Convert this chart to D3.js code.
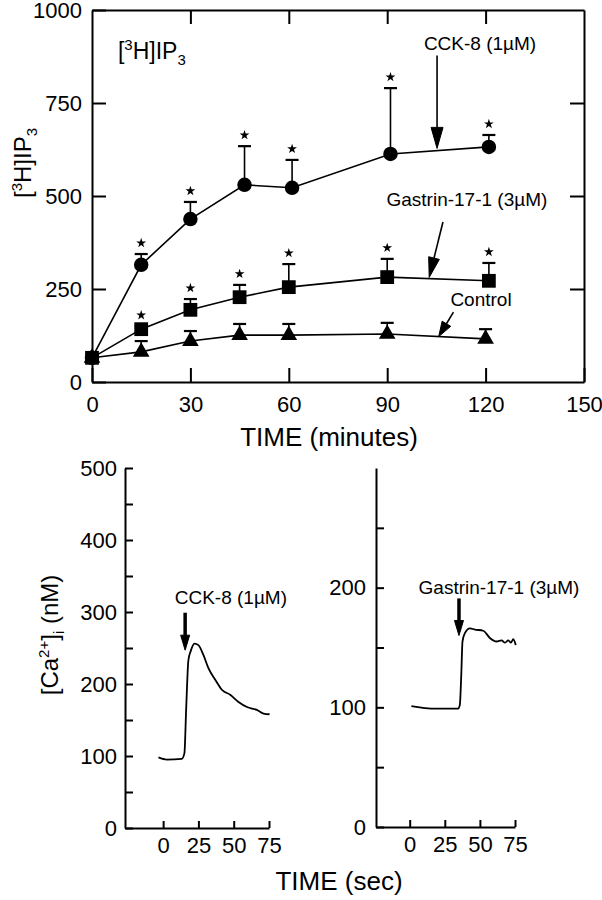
<!DOCTYPE html>
<html>
<head>
<meta charset="utf-8">
<script src="https://cdn.jsdelivr.net/npm/d3@7"></script>
<style>
  body { margin: 0; background: #fff; }
  svg { display: block; font-family: "Liberation Sans", Arial, Helvetica, sans-serif; }
  .axis path, .axis line { stroke: #000; stroke-width: 2; }
  .axis text { font-size: 22px; fill: #000; font-family: "Liberation Sans", Arial, Helvetica, sans-serif; }
</style>
</head>
<body>
<script>
// ---------- Top panel data: [3H]IP3 vs time (minutes) ----------
const cckTime  = [0, 15, 30, 46.5, 61, 91, 121];
const cckMean  = [65, 315, 438, 530, 522, 613, 632];
const cckSem   = [0, 29, 46, 104, 75, 177, 32];
const cckSig   = [false, true, true, true, true, true, true];

const gasTime  = [0, 15, 30, 45, 60, 90, 121];
const gasMean  = [65, 142, 194, 228, 255, 282, 272];
const gasSem   = [0, 8, 29, 33, 62, 49, 48];
const gasSig   = [false, true, true, true, true, true, true];

const ctlTime  = [0, 15, 30, 45, 60, 90, 120];
const ctlMean  = [65, 81, 110, 126, 126, 129, 116];
const ctlSem   = [0, 29, 27, 30, 30, 30, 26];

const topXTicks = [0, 30, 60, 90, 120, 150];
const topYTicks = [0, 250, 500, 750, 1000];

// ---------- Bottom panels: [Ca2+]i traces (seconds) ----------
const cckTraceT = [-3.3, 2.6, 13.2, 15.1, 16.3, 17.9, 19.6, 22.2, 25, 28.6, 32.1, 36.9, 41.6, 47.5, 53.4, 59.4, 66.4, 71.1, 75.4];
const cckTraceV = [98, 95, 96, 104, 164, 233, 246, 256, 254, 240, 222, 206, 192, 185, 175, 168, 164, 159, 158];

const gasTraceT = [1.2, 7.1, 16.7, 26.2, 34.5, 35.7, 36.7, 37.6, 39.3, 42.9, 46.4, 52.4, 57.1, 61.9, 65.5, 67.9, 70.2, 72.1, 73.8, 75.5];
const gasTraceV = [101, 100, 99, 99, 99, 102, 126, 155, 162, 166, 165, 164, 158, 155, 156, 154, 156, 154, 157, 152];

const secTicks = [0, 25, 50, 75];
const leftCaTicks = [0, 50, 100, 150, 200, 250, 300, 350, 400, 450, 500];
const rightCaTicks = [0, 50, 100, 150, 200, 250];

// ---------- SVG ----------
const svg = d3.select("body").append("svg").attr("width", 602).attr("height", 900);

function arrow(g, x1, y1, x2, y2, headLen, headW, sw) {
  const dx = x2 - x1, dy = y2 - y1, L = Math.hypot(dx, dy);
  const ux = dx / L, uy = dy / L, px = -uy, py = ux;
  const bx = x2 - ux * headLen, by = y2 - uy * headLen;
  g.append("line").attr("x1", x1).attr("y1", y1).attr("x2", bx + ux * 2).attr("y2", by + uy * 2)
    .attr("stroke", "#000").attr("stroke-width", sw);
  g.append("path")
    .attr("d", `M${x2},${y2}L${bx + px * headW / 2},${by + py * headW / 2}L${bx - px * headW / 2},${by - py * headW / 2}Z`)
    .attr("fill", "#000").attr("stroke", "#000").attr("stroke-width", 1);
}

// ===== TOP PANEL =====
const xTop = d3.scaleLinear().domain([0, 150]).range([92, 584]);
const yTop = d3.scaleLinear().domain([0, 1000]).range([382, 10]);
const gTop = svg.append("g");

gTop.append("g").attr("class", "axis").attr("transform", `translate(${xTop(0)},0)`)
  .call(d3.axisLeft(yTop).tickValues(topYTicks).tickFormat(d3.format("d")).tickSizeInner(-14).tickSizeOuter(0).tickPadding(10));
gTop.append("g").attr("class", "axis").attr("transform", `translate(0,${yTop(0)})`)
  .call(d3.axisBottom(xTop).tickValues(topXTicks).tickSizeInner(-14).tickSizeOuter(0).tickPadding(14));
gTop.append("g").attr("class", "axis").attr("transform", `translate(${xTop(150)},0)`)
  .call(d3.axisRight(yTop).tickValues([250, 500, 750]).tickSizeInner(-14).tickSizeOuter(0).tickFormat(""));
gTop.append("g").attr("class", "axis").attr("transform", `translate(0,${yTop(1000)})`)
  .call(d3.axisTop(xTop).tickValues([30, 60, 90, 120]).tickSizeInner(-14).tickSizeOuter(0).tickFormat(""));

const series = [
  { t: cckTime, m: cckMean, s: cckSem, sig: cckSig, sym: d3.symbolCircle, size: 165 },
  { t: gasTime, m: gasMean, s: gasSem, sig: gasSig, sym: d3.symbolSquare, size: 190 },
  { t: ctlTime, m: ctlMean, s: ctlSem, sig: null, sym: d3.symbolTriangle, size: 120 }
];

const line = d3.line().x(d => xTop(d[0])).y(d => yTop(d[1]));
series.forEach(se => {
  const pts = se.t.map((t, i) => [t, se.m[i]]);
  gTop.append("path").attr("d", line(pts)).attr("fill", "none").attr("stroke", "#000").attr("stroke-width", 1.6);
});
series.forEach(se => {
  se.t.forEach((t, i) => {
    if (se.s[i] > 0) {
      const x = xTop(t), y0 = yTop(se.m[i]), y1 = yTop(se.m[i] + se.s[i]);
      gTop.append("line").attr("x1", x).attr("x2", x).attr("y1", y0).attr("y2", y1)
        .attr("stroke", "#000").attr("stroke-width", 1.6);
      gTop.append("line").attr("x1", x - 6.5).attr("x2", x + 6.5).attr("y1", y1).attr("y2", y1)
        .attr("stroke", "#000").attr("stroke-width", 2.2);
      if (se.sig && se.sig[i]) {
        gTop.append("path").attr("d", d3.symbol().type(d3.symbolStar).size(30)())
          .attr("transform", `translate(${x},${y1 - 11})`).attr("fill", "#000");
      }
    }
  });
});
series.forEach(se => {
  se.t.forEach((t, i) => {
    gTop.append("path").attr("d", d3.symbol().type(se.sym).size(se.size)())
      .attr("transform", `translate(${xTop(t)},${yTop(se.m[i])})`).attr("fill", "#000");
  });
});

// annotations (data coordinates)
gTop.append("text").attr("x", xTop(7.9)).attr("y", yTop(868)).attr("font-size", 23)
  .call(t => {
    t.append("tspan").text("[");
    t.append("tspan").attr("font-size", 15).attr("dy", -9).text("3");
    t.append("tspan").attr("dy", 9).text("H]IP");
    t.append("tspan").attr("font-size", 15).attr("dy", 6).text("3");
  });
gTop.append("text").attr("x", xTop(118.3)).attr("y", yTop(892)).attr("text-anchor", "middle").attr("font-size", 19).text("CCK-8 (1µM)");
arrow(gTop, xTop(105.2), yTop(878), xTop(105.2), yTop(628), 21, 12, 1.6);
gTop.append("text").attr("x", xTop(114.3)).attr("y", yTop(472)).attr("text-anchor", "middle").attr("font-size", 19).text("Gastrin-17-1 (3µM)");
arrow(gTop, xTop(107), yTop(430), xTop(102.8), yTop(281), 20, 11, 1.6);
gTop.append("text").attr("x", xTop(118.6)).attr("y", yTop(203)).attr("text-anchor", "middle").attr("font-size", 19).text("Control");
arrow(gTop, xTop(110.2), yTop(188), xTop(105.7), yTop(122), 15, 10, 1.6);

// axis titles
svg.append("text").attr("transform", "translate(31,163) rotate(-90)").attr("text-anchor", "middle").attr("font-size", 24)
  .call(t => {
    t.append("tspan").text("[");
    t.append("tspan").attr("font-size", 15).attr("dy", -9).text("3");
    t.append("tspan").attr("dy", 9).text("H]IP");
    t.append("tspan").attr("font-size", 15).attr("dy", 6).text("3");
  });
svg.append("text").attr("x", 329).attr("y", 446).attr("text-anchor", "middle").attr("font-size", 26).text("TIME (minutes)");

// ===== BOTTOM LEFT =====
const xBL = d3.scaleLinear().domain([-27, 75]).range([125, 269]);
const yBL = d3.scaleLinear().domain([0, 500]).range([828, 468]);
const gBL = svg.append("g");
gBL.append("g").attr("class", "axis").attr("transform", `translate(${xBL(-27)},0)`)
  .call(d3.axisLeft(yBL).tickValues(leftCaTicks).tickSizeInner(-8).tickSizeOuter(0).tickPadding(8)
    .tickFormat(d => d % 100 === 0 ? d : ""));
gBL.append("g").attr("class", "axis").attr("transform", `translate(0,${yBL(0)})`)
  .call(d3.axisBottom(xBL).tickValues(secTicks).tickSizeInner(-7).tickSizeOuter(0).tickPadding(9));
gBL.append("path")
  .attr("d", d3.line().x(d => xBL(d[0])).y(d => yBL(d[1])).curve(d3.curveMonotoneX)(cckTraceT.map((t, i) => [t, cckTraceV[i]])))
  .attr("fill", "none").attr("stroke", "#000").attr("stroke-width", 1.8);
gBL.append("text").attr("x", xBL(48)).attr("y", yBL(311)).attr("text-anchor", "middle").attr("font-size", 19).text("CCK-8 (1µM)");
arrow(gBL, xBL(15.6), yBL(299), xBL(15.6), yBL(247), 15, 9, 3.5);

// ===== BOTTOM RIGHT =====
const xBR = d3.scaleLinear().domain([-24, 75]).range([376, 515]);
const yBR = d3.scaleLinear().domain([0, 300]).range([827, 468]);
const gBR = svg.append("g");
gBR.append("g").attr("class", "axis").attr("transform", `translate(${xBR(-24)},0)`)
  .call(d3.axisLeft(yBR).tickValues(rightCaTicks).tickSizeInner(-8).tickSizeOuter(0).tickPadding(10)
    .tickFormat(d => d % 100 === 0 ? d : ""));
gBR.append("g").attr("class", "axis").attr("transform", `translate(0,${yBR(0)})`)
  .call(d3.axisBottom(xBR).tickValues(secTicks).tickSizeInner(-7).tickSizeOuter(0).tickPadding(9));
gBR.append("path")
  .attr("d", d3.line().x(d => xBR(d[0])).y(d => yBR(d[1])).curve(d3.curveMonotoneX)(gasTraceT.map((t, i) => [t, gasTraceV[i]])))
  .attr("fill", "none").attr("stroke", "#000").attr("stroke-width", 1.8);
gBR.append("text").attr("x", xBR(63.6)).attr("y", yBR(195)).attr("text-anchor", "middle").attr("font-size", 19).text("Gastrin-17-1 (3µM)");
arrow(gBR, xBR(35.1), yBR(191), xBR(35.1), yBR(160), 15, 9, 3.5);

// bottom axis titles
svg.append("text").attr("transform", "translate(58,635) rotate(-90)").attr("text-anchor", "middle").attr("font-size", 24)
  .call(t => {
    t.append("tspan").text("[Ca");
    t.append("tspan").attr("font-size", 15).attr("dy", -9).text("2+");
    t.append("tspan").attr("dy", 9).text("]");
    t.append("tspan").attr("font-size", 15).attr("dy", 6).text("i");
    t.append("tspan").attr("dy", -6).text(" (nM)");
  });
svg.append("text").attr("x", 339).attr("y", 890).attr("text-anchor", "middle").attr("font-size", 26).text("TIME (sec)");
</script>
</body>
</html>
